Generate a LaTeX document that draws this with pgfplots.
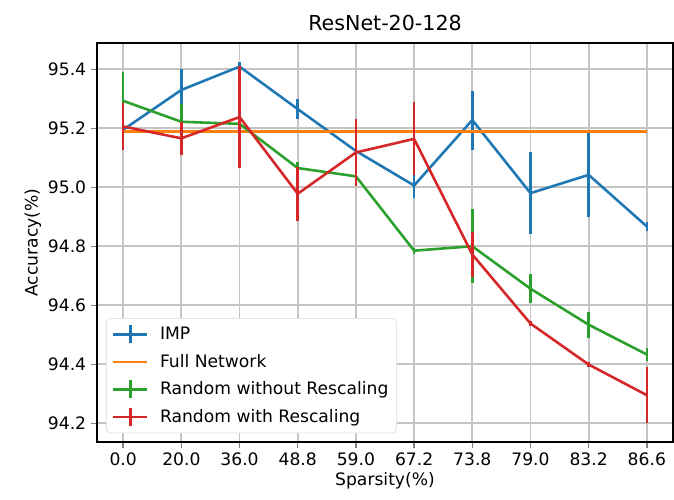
\documentclass[border=0pt]{standalone}
\usepackage{pgfplots}
\pgfplotsset{compat=1.18}
\usepackage{pgfplotstable}
\usepackage{fontspec}
\setmainfont{DejaVu Sans}
\definecolor{tabblue}{HTML}{1F77B4}
\definecolor{taborange}{HTML}{FF7F0E}
\definecolor{tabgreen}{HTML}{2CA02C}
\definecolor{tabred}{HTML}{D62728}
\definecolor{gridgray}{HTML}{C4C4C4}
\newcommand{\tfont}{\fontsize{12.4}{14.9}\selectfont}
\pgfplotsset{
  errleg/.style={legend image code/.code={
    \draw[##1] (0pt,0pt) -- (24.8pt,0pt);
    \draw[##1] (12.4pt,-6.5pt) -- (12.4pt,6.5pt);
    \path (31pt,0pt);}},
  lineleg/.style={legend image code/.code={
    \draw[##1] (0pt,0pt) -- (24.8pt,0pt);
    \path (31pt,0pt);}},
}
\pgfplotstableread{
x y e
0 95.195 0.01
1 95.33 0.072
2 95.409 0.015
3 95.265 0.033
4 95.123 0.01
5 95.006 0.044
6 95.228 0.1
7 94.98 0.139
8 95.042 0.143
9 94.867 0.015
}\imp
\pgfplotstableread{
x y e
0 95.293 0.097
1 95.222 0.06
2 95.215 0.01
3 95.065 0.02
4 95.037 0.01
5 94.785 0.01
6 94.80 0.125
7 94.656 0.05
8 94.534 0.044
9 94.433 0.023
}\rnd
\pgfplotstableread{
x y e
0 95.206 0.08
1 95.166 0.056
2 95.238 0.174
3 94.978 0.092
4 95.118 0.115
5 95.164 0.124
6 94.772 0.075
7 94.538 0.01
8 94.399 0.01
9 94.295 0.094
}\rsc
\pgfplotstableread{
x y
0 95.19
9 95.19
}\full
\begin{document}
\begin{tikzpicture}
\begin{axis}[
  at={(0,0)}, anchor=south west,
  scale only axis, width=416.3pt, height=288.4pt,
  xmin=-0.45, xmax=9.45, ymin=94.136, ymax=95.489,
  xtick={0,...,9},
  xticklabels={0.0,20.0,36.0,48.8,59.0,67.2,73.8,79.0,83.2,86.6},
  ytick={94.2,94.4,94.6,94.8,95.0,95.2,95.4},
  yticklabel style={/pgf/number format/.cd,fixed,fixed zerofill,precision=1},
  /pgf/number format/assume math mode=true,
  tick label style={font=\tfont},
  label style={font=\tfont},
  title={ResNet-20-128},
  title style={font=\fontsize{14.9}{17.9}\selectfont, yshift=-1pt},
  xlabel={Sparsity(\%)}, ylabel={Accuracy(\%)},
  xlabel style={yshift=2pt},
  ylabel style={yshift=-2pt},
  xmajorgrids, ymajorgrids,
  every major grid/.style={draw=gridgray, line width=1.3pt, opacity=1},
  axis line style={line width=1pt},
  major tick style={line width=1pt},
  tick align=outside, tick pos=left,
  major tick length=4.3pt,
  legend cell align=left,
  legend style={at={(0.0156,0.0226)}, anchor=south west, font=\tfont,
    draw=black!15, rounded corners=3pt, fill=white,
    row sep=5pt, inner xsep=4pt, inner ysep=4pt},
  every axis plot/.append style={line width=1.86pt},
  error bars/error bar style={line width=1.86pt},
]
\addplot[tabblue, errleg, error bars/.cd, y dir=both, y explicit, error mark=none] table[x=x, y=y, y error=e] {\imp};
\addlegendentry{IMP}
\addplot[taborange, lineleg] table[x=x, y=y] {\full};
\addlegendentry{Full Network}
\addplot[tabgreen, errleg, error bars/.cd, y dir=both, y explicit, error mark=none] table[x=x, y=y, y error=e] {\rnd};
\addlegendentry{Random without Rescaling}
\addplot[tabred, errleg, error bars/.cd, y dir=both, y explicit, error mark=none] table[x=x, y=y, y error=e] {\rsc};
\addlegendentry{Random with Rescaling}
\end{axis}
\pgfresetboundingbox
\path (-70.1pt,-41.2pt) rectangle (417.0pt,319.5pt);
\end{tikzpicture}
\end{document}
